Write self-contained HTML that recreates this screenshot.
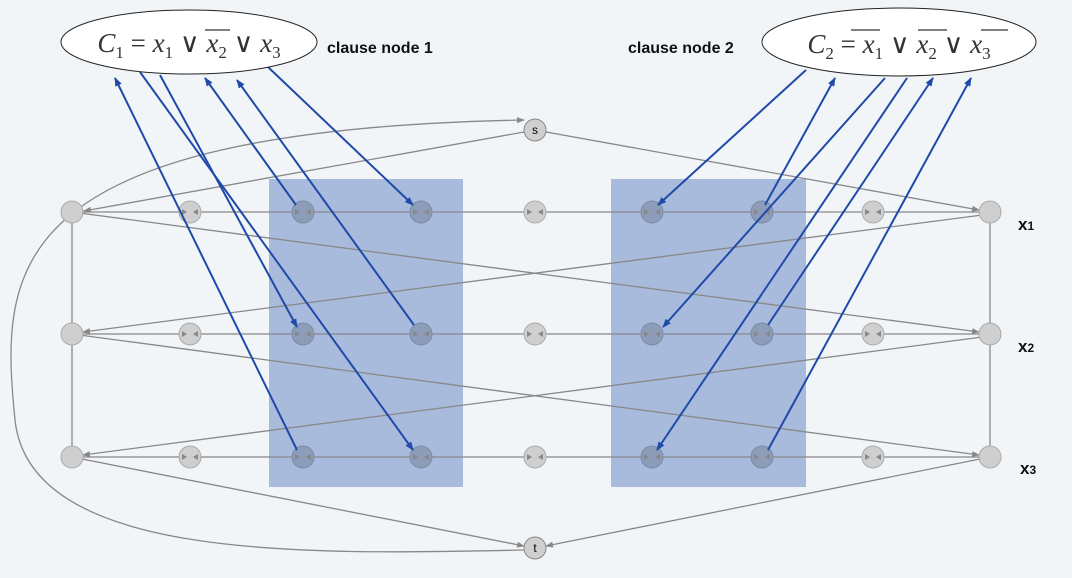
<!DOCTYPE html><html><head><meta charset="utf-8"><style>
body{margin:0;background:#f2f5f8;}
svg{display:block;font-family:"Liberation Sans",sans-serif}
</style></head><body>
<svg width="1072" height="578" viewBox="0 0 1072 578">
<defs>
<marker id="ga" markerWidth="8" markerHeight="6" refX="7" refY="3" orient="auto" markerUnits="userSpaceOnUse"><path d="M0,0L8,3L0,6z" fill="#888"/></marker>
<marker id="ba" markerWidth="9" markerHeight="7" refX="8" refY="3.5" orient="auto" markerUnits="userSpaceOnUse"><path d="M0,0L9,3.5L0,7z" fill="#1f4aa8"/></marker>
</defs>
<rect x="269" y="179" width="194" height="308" fill="#a8bbdc"/>
<rect x="611" y="179" width="195" height="308" fill="#a8bbdc"/>
<g id="gray" stroke="#888" stroke-width="1.3" fill="none"></g>
<g id="nodes"></g>
<g id="blue" stroke="#1f4aa8" stroke-width="2" fill="none"></g>
<ellipse cx="189" cy="42" rx="128" ry="32" fill="#fff" stroke="#222"/>
<text x="189" y="52" text-anchor="middle" font-family="Liberation Serif,serif" font-style="italic" font-size="27" fill="#333">C<tspan font-size="17" dy="6" font-style="normal">1</tspan><tspan dy="-6" font-style="normal"> = </tspan>x<tspan font-size="17" dy="6" font-style="normal">1</tspan><tspan dy="-6" font-style="normal"> ∨ </tspan>x<tspan font-size="17" dy="6" font-style="normal">2</tspan><tspan dy="-6" font-style="normal"> ∨ </tspan>x<tspan font-size="17" dy="6" font-style="normal">3</tspan></text>
<text x="327" y="53" font-weight="bold" font-size="16" fill="#111">clause node 1</text>
<ellipse cx="899" cy="42" rx="137" ry="34" fill="#fff" stroke="#222"/>
<text x="899" y="53" text-anchor="middle" font-family="Liberation Serif,serif" font-style="italic" font-size="27" fill="#333">C<tspan font-size="17" dy="6" font-style="normal">2</tspan><tspan dy="-6" font-style="normal"> = </tspan>x<tspan font-size="17" dy="6" font-style="normal">1</tspan><tspan dy="-6" font-style="normal"> ∨ </tspan>x<tspan font-size="17" dy="6" font-style="normal">2</tspan><tspan dy="-6" font-style="normal"> ∨ </tspan>x<tspan font-size="17" dy="6" font-style="normal">3</tspan></text>
<g stroke="#333" stroke-width="1.2">
<line x1="205" y1="30" x2="230" y2="30"/>
<line x1="851" y1="30" x2="880" y2="30"/><line x1="918" y1="30" x2="947" y2="30"/><line x1="981" y1="30" x2="1008" y2="30"/>
</g>
<text x="628" y="53" font-weight="bold" font-size="16" fill="#111">clause node 2</text>
<text x="1018" y="230" font-weight="bold" font-size="17" fill="#111">x<tspan font-size="12">1</tspan></text>
<text x="1018" y="352" font-weight="bold" font-size="17" fill="#111">x<tspan font-size="12">2</tspan></text>
<text x="1020" y="474" font-weight="bold" font-size="17" fill="#111">x<tspan font-size="12">3</tspan></text>
</svg>
<script>
const NS='http://www.w3.org/2000/svg';
const cols=[72,190,303,421,535,652,762,873,990];
const rows=[212,334,457];
const gray=document.getElementById('gray'),nodes=document.getElementById('nodes'),blue=document.getElementById('blue');
function line(g,x1,y1,x2,y2,m){const l=document.createElementNS(NS,'line');l.setAttribute('x1',x1);l.setAttribute('y1',y1);l.setAttribute('x2',x2);l.setAttribute('y2',y2);if(m)l.setAttribute('marker-end','url(#'+m+')');


g.appendChild(l);}
rows.forEach(y=>line(gray,72,y,990,y));
line(gray,72,212,72,457);line(gray,990,212,990,457);
line(gray,72,212,979,332,'ga');line(gray,990,214,83,332,'ga');
line(gray,72,334,979,455,'ga');line(gray,990,336,83,455,'ga');
line(gray,535,130,84,211,'ga');line(gray,535,130,979,210,'ga');
line(gray,72,457,524,546,'ga');line(gray,990,457,546,546,'ga');
const cp=document.createElementNS(NS,'path');cp.setAttribute('d','M524,550 C300,555 30,560 15,420 C0,270 0,130 524,120');cp.setAttribute('marker-end','url(#ga)');


gray.appendChild(cp);
rows.forEach((y,ri)=>cols.forEach((x,ci)=>{const c=document.createElementNS(NS,'circle');c.setAttribute('cx',x);c.setAttribute('cy',y);c.setAttribute('r',11);
const dark=(ci>=2&&ci<=3)||(ci>=5&&ci<=6);c.setAttribute('fill',dark?'#8d9cb8':'#cfcfcf');c.setAttribute('stroke',dark?'#7a8aa8':'#aaa');


nodes.appendChild(c);
if(ci>0&&ci<8){const p=document.createElementNS(NS,'path');p.setAttribute('d',`M${x-8},${y-3}L${x-3},${y}L${x-8},${y+3}z M${x+8},${y-3}L${x+3},${y}L${x+8},${y+3}z`);p.setAttribute('fill','#888');


nodes.appendChild(p);}
}));
const s=[[535,130,'s'],[535,548,'t']];
s.forEach(([x,y,t])=>{const c=document.createElementNS(NS,'circle');c.setAttribute('cx',x);c.setAttribute('cy',y);c.setAttribute('r',11);c.setAttribute('fill','#cfcfcf');c.setAttribute('stroke','#888');


nodes.appendChild(c);const tx=document.createElementNS(NS,'text');tx.setAttribute('x',x);tx.setAttribute('y',y+4);tx.setAttribute('text-anchor','middle');tx.setAttribute('font-size','12');tx.textContent=t;


nodes.appendChild(tx);});
[[297,450,115,78],[140,72,413,450],[160,75,297,327],[296,205,205,78],[414,325,237,80],[268,67,413,205],
 [806,70,658,205],[765,205,835,78],[885,78,663,327],[907,78,657,450],[768,325,933,78],[768,450,971,78]]
.forEach(a=>line(blue,a[0],a[1],a[2],a[3],'ba'));
</script>
</body></html>
